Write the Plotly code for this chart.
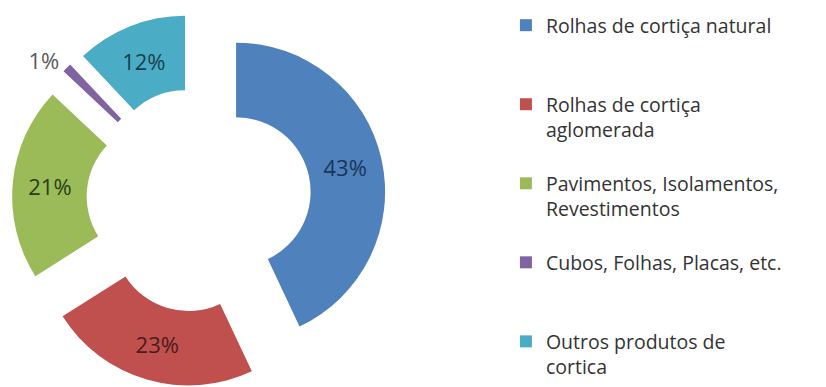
import plotly.graph_objects as go

categories = [
    "Rolhas de cortiça natural",
    "Rolhas de cortiça aglomerada",
    "Pavimentos, Isolamentos, Revestimentos",
    "Cubos, Folhas, Placas, etc.",
    "Outros produtos de cortica",
]
legend_labels = [
    "Rolhas de cortiça natural<br> <br> ",
    "Rolhas de cortiça<br>aglomerada<br> ",
    "Pavimentos, Isolamentos,<br>Revestimentos<br> ",
    "Cubos, Folhas, Placas, etc.<br> <br> ",
    "Outros produtos de<br>cortica",
]
values = [43, 23, 21, 1, 12]
colors = ["#4F81BD", "#C0504D", "#9BBB59", "#8064A2", "#4BACC6"]
text_colors = ["#1A3558", "#4A1C1B", "#2C3D12", "#595959", "#173F4E"]
text_positions = ["inside", "inside", "inside", "outside", "inside"]

fig = go.Figure(
    go.Pie(
        labels=legend_labels,
        values=values,
        customdata=categories,
        sort=False,
        direction="clockwise",
        rotation=0,
        hole=0.5,
        pull=[0.255] * len(values),
        marker=dict(colors=colors, line=dict(width=0)),
        texttemplate="%{value}%",
        textposition=text_positions,
        insidetextorientation="horizontal",
        textfont=dict(family="Open Sans", size=22, color=text_colors),
        hovertemplate="%{customdata}: %{value}%<extra></extra>",
        domain=dict(x=[12 / 826, 386 / 826], y=[0, 374 / 387]),
    )
)

fig.update_layout(
    width=826,
    height=387,
    margin=dict(l=0, r=0, t=0, b=0, autoexpand=False),
    paper_bgcolor="white",
    plot_bgcolor="white",
    showlegend=True,
    legend=dict(
        x=0.6125,
        xanchor="left",
        y=1 - 6 / 387,
        yanchor="top",
        valign="top",
        font=dict(family="Open Sans", size=19.5, color="#333333"),
        itemwidth=30,
        bgcolor="rgba(0,0,0,0)",
    ),
)

fig.write_html("out.html")
